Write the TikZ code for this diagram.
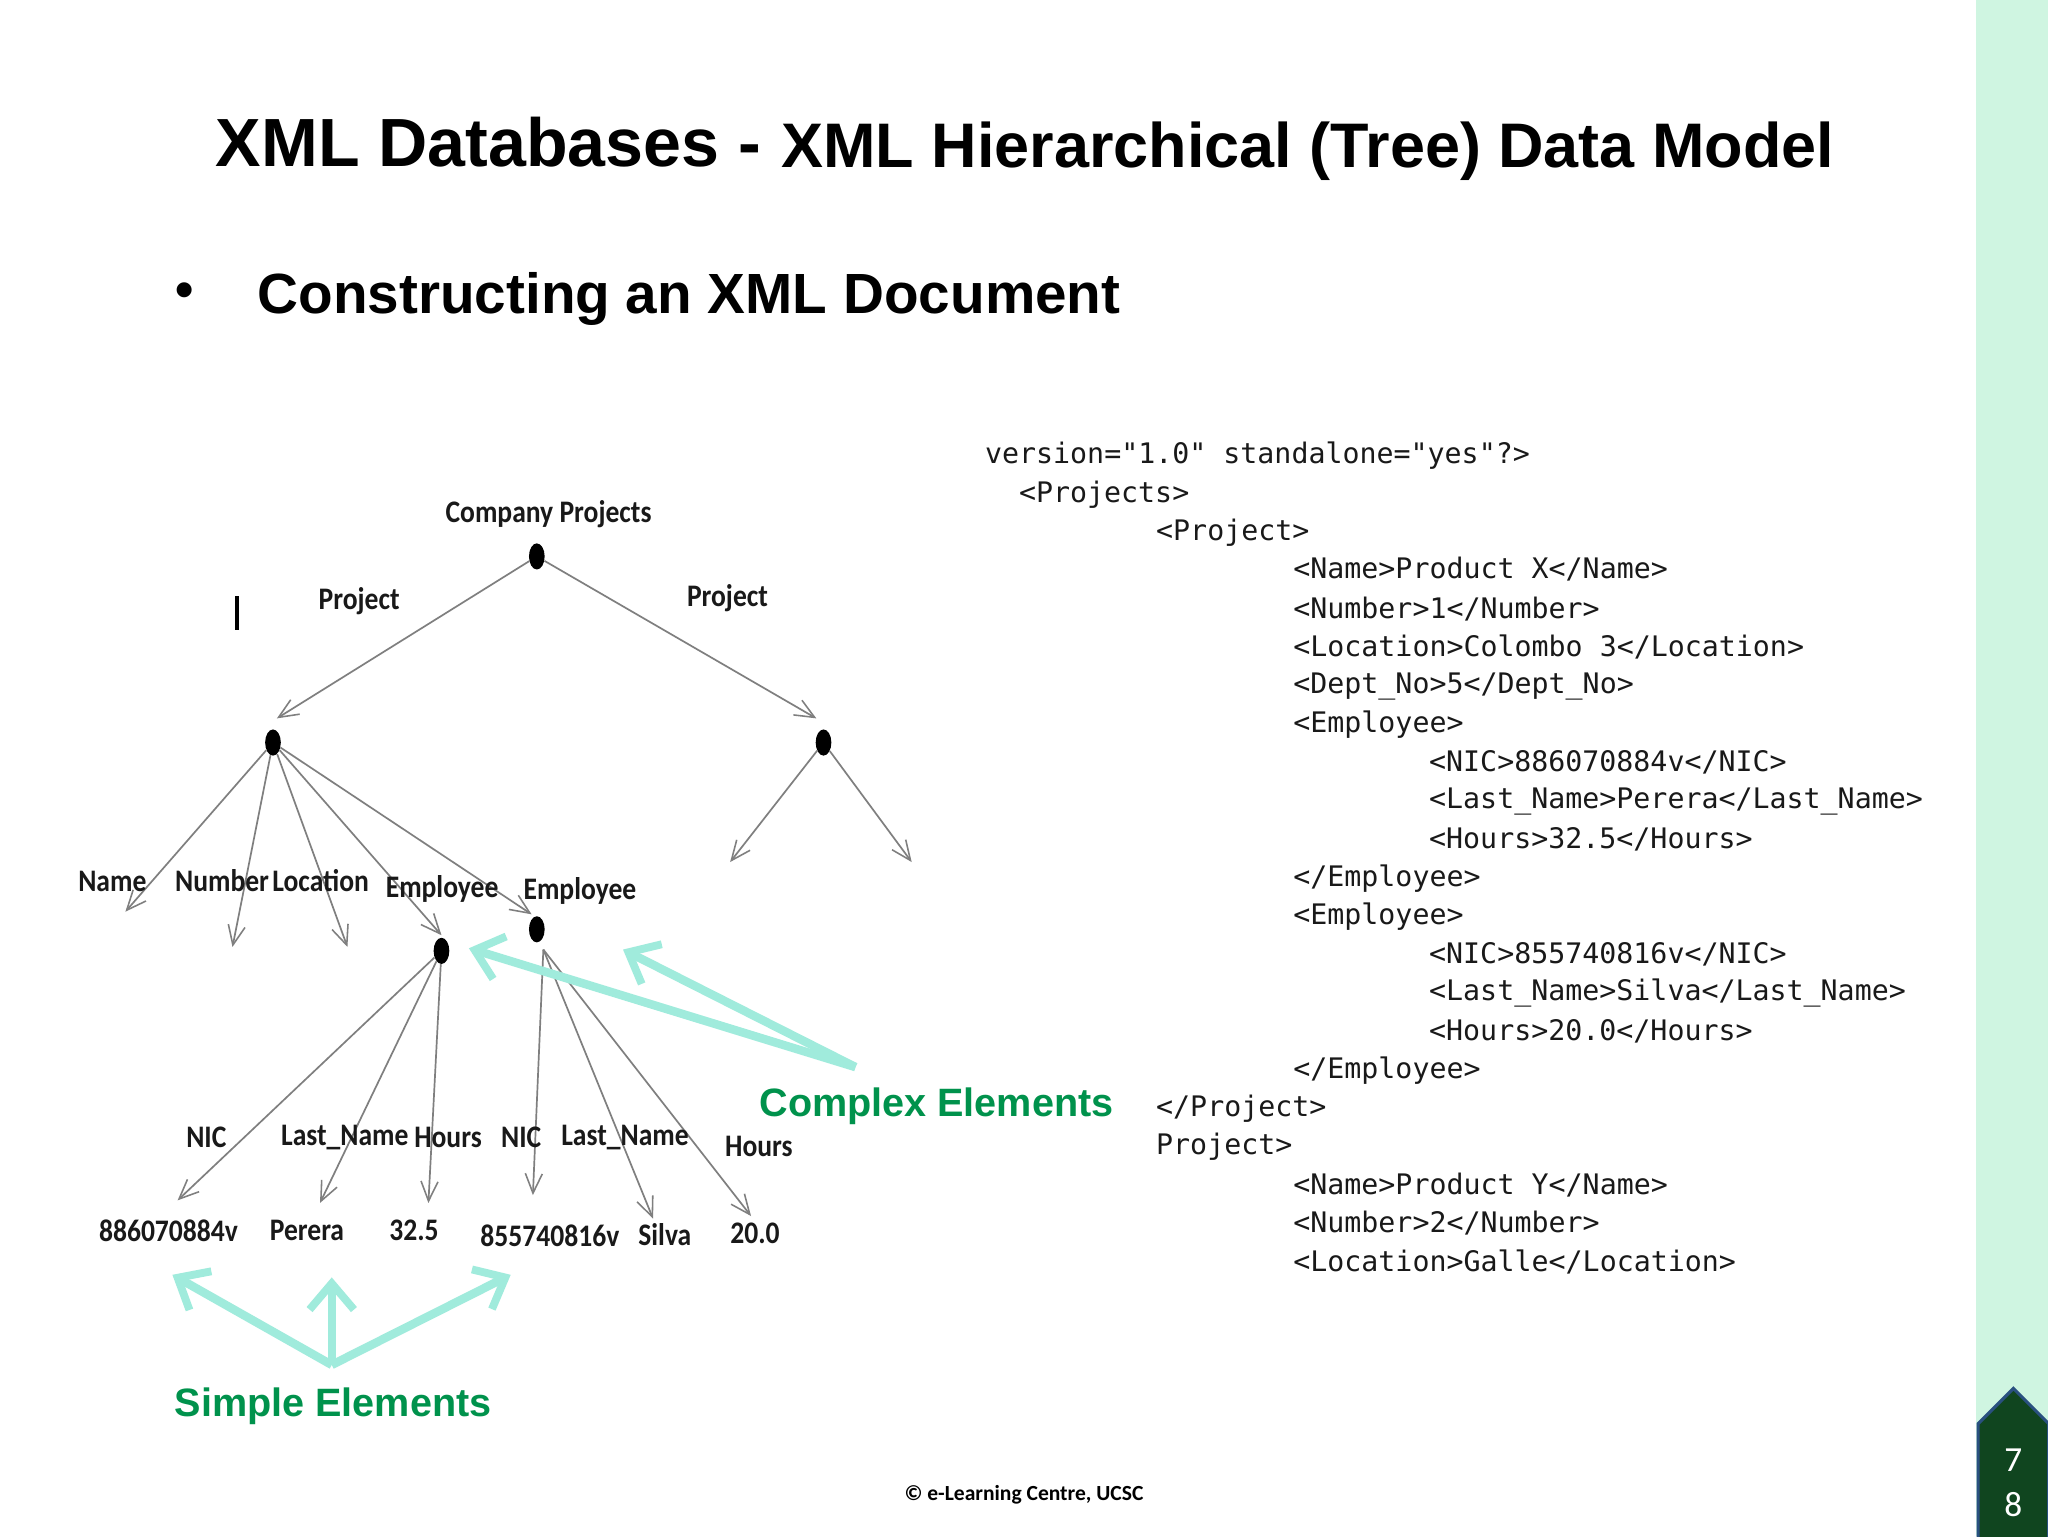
\documentclass[tikz,border=0pt]{standalone}
\usepackage{fontspec}
\usetikzlibrary{arrows.meta,shapes.geometric}
\setmainfont{Liberation Sans}
\newfontfamily\narrowf[FakeStretch=0.88]{Carlito}
\newfontfamily\carlitof{Carlito}
\newfontfamily\codef{DejaVu Sans Mono}
\newcommand{\fsz}[1]{\fontsize{#1}{#1}\selectfont}
\definecolor{band}{HTML}{CFF5E1}
\definecolor{teal}{HTML}{A0EBDC}
\definecolor{lblgreen}{HTML}{00924C}
\definecolor{tagfill}{HTML}{10451F}
\definecolor{tagline}{HTML}{2A5080}
\definecolor{graya}{HTML}{7F7F7F}
\tikzset{
  dot/.style={ellipse,fill=black,inner sep=0pt,minimum width=12pt,minimum height=20pt},
  lbl/.style={inner sep=0pt,font=\narrowf\bfseries\fsz{24},text=black!90},
  code/.style={inner sep=0pt,anchor=west,font=\codef\fsz{21.65},text=black!90},
  edge/.style={draw=graya,line width=1.3pt,-{Straight Barb[length=15pt,width=13pt,line width=1.2pt]}},
  callout/.style={draw=teal,line width=6.5pt,-{Straight Barb[length=20pt,width=34pt,line width=6pt]}},
  green/.style={inner sep=0pt,text=lblgreen,font=\bfseries\fsz{30.3}},
}
\begin{document}
\begin{tikzpicture}[x=1pt,y=-1pt]
\useasboundingbox (0,0) rectangle (1568,1176);
\fill[white] (0,0) rectangle (1568,1176);
\fill[band] (1513,0) rectangle (1568,1176);
\node[inner sep=0pt,anchor=base west,font=\bfseries\fsz{52.2}] (t1) at (165,127.5) {XML Databases -};
\node[inner sep=0pt,anchor=base west,font=\bfseries\fsz{48.2}] (t2) at (598,128) {XML Hierarchical (Tree) Data Model};
\node[inner sep=0pt,font=\bfseries\fsz{40}] (bul) at (141,226) {•};
\node[inner sep=0pt,anchor=base west,font=\bfseries\fsz{43.4}] (sub) at (197,240) {Constructing an XML Document};
\fill[black] (179.8,456) rectangle (182.6,482);

% dots
\node[dot] (root) at (411,426) {};
\node[dot] (pl) at (209,568.5) {};
\node[dot] (pr) at (630.5,568.5) {};
\node[dot] (e1) at (338,728) {};
\node[dot] (e2) at (411,711.5) {};
% free ends
\coordinate (tpl) at (212,550);
\coordinate (tpr) at (625,550);
\coordinate (tname) at (96,698);
\coordinate (tnum) at (178,725);
\coordinate (tloc) at (266,725);
\coordinate (te1) at (338,716);
\coordinate (te2) at (407,700);
\coordinate (tr1) at (559,660);
\coordinate (tr2) at (698,660);
\coordinate (tn1) at (136,919);
\coordinate (tln1) at (245,921);
\coordinate (th1) at (328,921);
\coordinate (e2s) at (416,727);
\coordinate (tn2) at (408,915);
\coordinate (tln2) at (500,933);
\coordinate (th2) at (575,931);

\draw[edge] (root) -- (tpl);
\draw[edge] (root) -- (tpr);
\draw[edge] (pl) -- (tname);
\draw[edge] (pl) -- (tnum);
\draw[edge] (pl) -- (tloc);
\draw[edge] (pl) -- (te1);
\draw[edge] (pl) -- (te2);
\draw[edge] (pr) -- (tr1);
\draw[edge] (pr) -- (tr2);
\draw[edge] (e1) -- (tn1);
\draw[edge] (e1) -- (tln1);
\draw[edge] (e1) -- (th1);
\draw[edge] (e2s) -- (tn2);
\draw[edge] (e2s) -- (tln2);
\draw[edge] (e2s) -- (th2);

% tree labels
\node[lbl] (l1) at (420,394) {Company Projects};
\node[lbl] (l2) at (275,460) {Project};
\node[lbl] (l3) at (557,458) {Project};
\node[lbl] (l4) at (86,674.5) {Name};
\node[lbl] (l5) at (170,674.5) {Number};
\node[lbl] (l6) at (245.5,674.5) {Location};
\node[lbl] (l7) at (338.5,680.5) {Employee};
\node[lbl] (l8) at (444,682) {Employee};
\node[lbl] (l9) at (158,870.5) {NIC};
\node[lbl] (l10) at (264,871) {Last\_Name};
\node[lbl] (l11) at (343,870.5) {Hours};
\node[lbl] (l12) at (399,870.5) {NIC};
\node[lbl] (l13) at (478.5,871) {Last\_Name};
\node[lbl] (l14) at (581,877.5) {Hours};
\node[lbl] (v1) at (129,942) {886070884v};
\node[lbl] (v2) at (235,942) {Perera};
\node[lbl] (v3) at (317,942) {32.5};
\node[lbl] (v4) at (421,946) {855740816v};
\node[lbl] (v5) at (509,945.5) {Silva};
\node[lbl] (v6) at (578,944) {20.0};

% callouts
\coordinate (cs) at (655,817);
\coordinate (c1) at (359,726);
\coordinate (c2) at (477,727);
\coordinate (ss) at (254,1045);
\coordinate (s1) at (132,976);
\coordinate (s2) at (254,978);
\coordinate (s3) at (391,976);
\draw[callout] (cs) -- (c1);
\draw[callout] (cs) -- (c2);
\draw[callout] (ss) -- (s1);
\draw[callout] (ss) -- (s2);
\draw[callout] (ss) -- (s3);
\node[green] (cplx) at (717,847) {Complex Elements};
\node[green] (smpl) at (255,1077) {Simple Elements};

% code
\node[code] (c01) at (754,349) {version="1.0" standalone="yes"?>};
\node[code] (c02) at (780,378.5) {<Projects>};
\node[code] (c03) at (885,407.5) {<Project>};
\node[code] (c04) at (990,436) {<Name>Product X</Name>};
\node[code] (c05) at (990,466) {<Number>1</Number>};
\node[code] (c06) at (990,495) {<Location>Colombo 3</Location>};
\node[code] (c07) at (990,525.5) {<Dept\_No>5</Dept\_No>};
\node[code] (c08) at (990,554.5) {<Employee>};
\node[code] (c09) at (1094,584) {<NIC>886070884v</NIC>};
\node[code] (c10) at (1094,613.5) {<Last\_Name>Perera</Last\_Name>};
\node[code] (c11) at (1094,642.5) {<Hours>32.5</Hours>};
\node[code] (c12) at (990,672.5) {</Employee>};
\node[code] (c13) at (990,701.5) {<Employee>};
\node[code] (c14) at (1094,731) {<NIC>855740816v</NIC>};
\node[code] (c15) at (1094,760.5) {<Last\_Name>Silva</Last\_Name>};
\node[code] (c16) at (1094,789.5) {<Hours>20.0</Hours>};
\node[code] (c17) at (990,819.5) {</Employee>};
\node[code] (c18) at (885,848.5) {</Project>};
\node[code] (c19) at (885,878) {Project>};
\node[code] (c20) at (990,907.5) {<Name>Product Y</Name>};
\node[code] (c21) at (990,936.5) {<Number>2</Number>};
\node[code] (c22) at (990,966) {<Location>Galle</Location>};

% footer and page tag
\node[inner sep=0pt,font=\carlitof\bfseries\fsz{16.5}] (foot) at (784,1144.5) {© e-Learning Centre, UCSC};
\draw[fill=tagfill,draw=tagline,line width=2.4pt] (1514.5,1178) -- (1514.5,1090) -- (1541.5,1063) -- (1568.5,1090) -- (1568.5,1178) -- cycle;
\node[inner sep=0pt,text=white,font=\carlitof\fsz{27}] (n7) at (1541.5,1118) {7};
\node[inner sep=0pt,text=white,font=\carlitof\fsz{27}] (n8) at (1541.5,1152) {8};
\end{tikzpicture}
\end{document}
